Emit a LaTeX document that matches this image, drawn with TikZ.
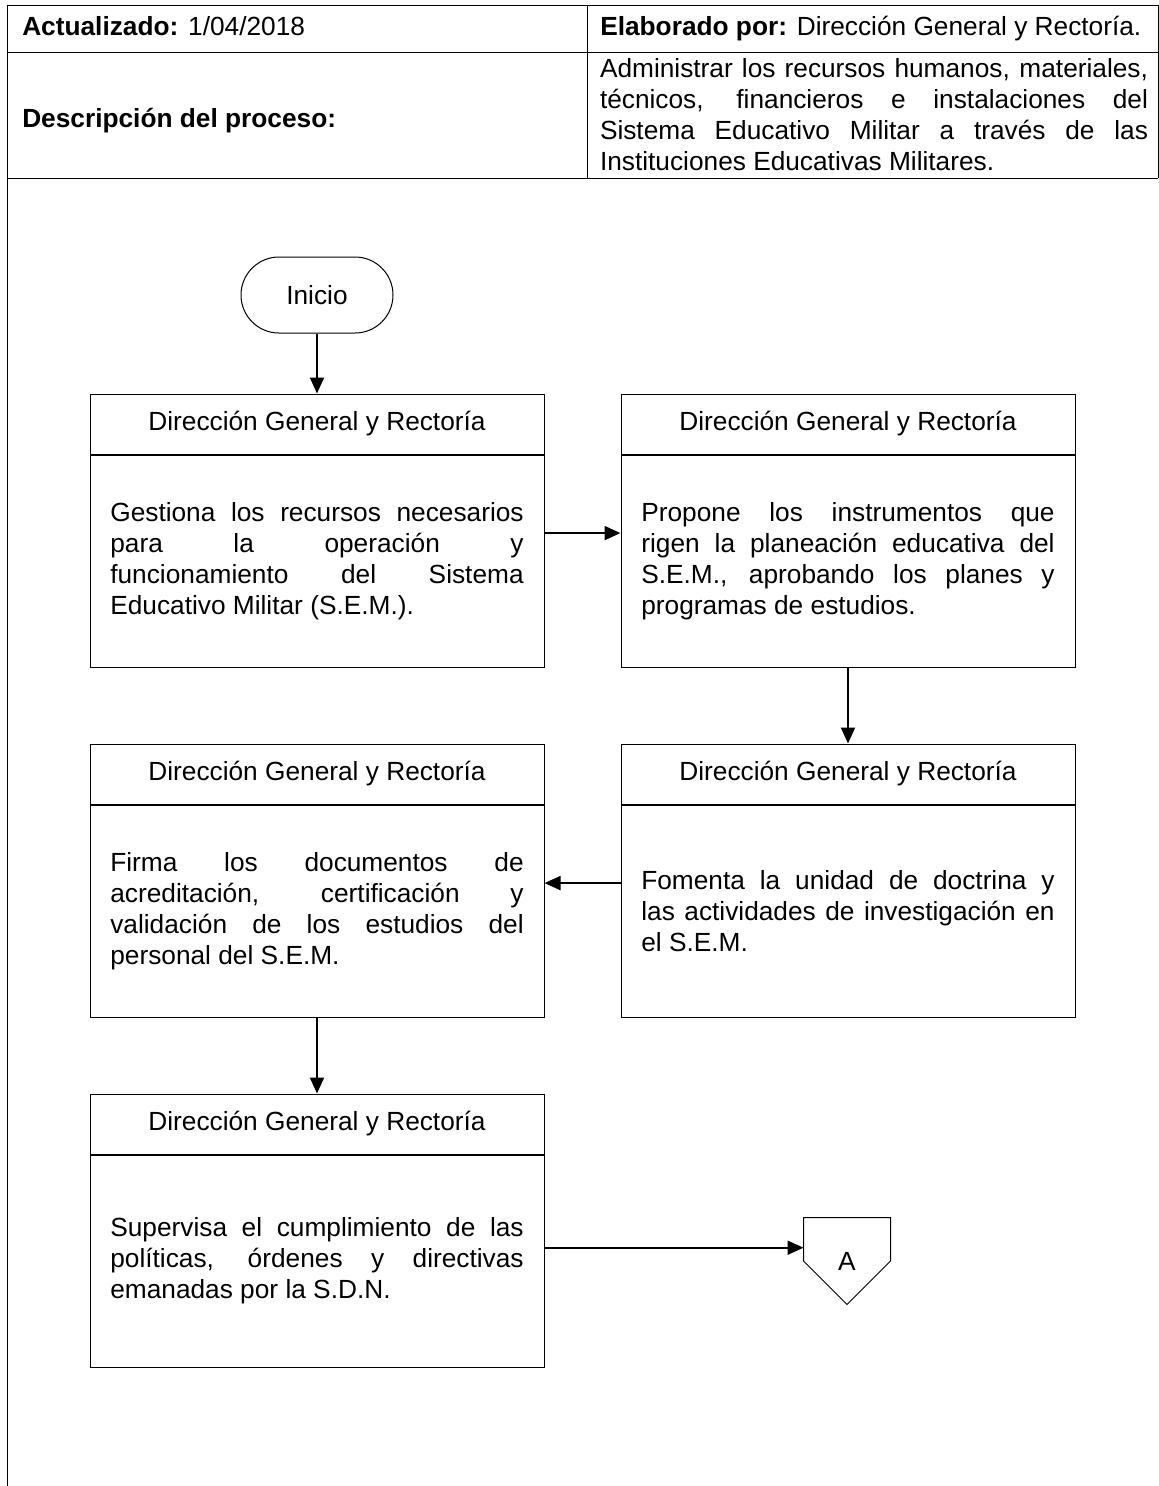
\documentclass[tikz,border=0pt]{standalone}
\usepackage{fontspec}
\setmainfont{Liberation Sans}
\usepackage{tikz}
\usetikzlibrary{positioning, arrows.meta}
\tikzstyle{startstop} = [rectangle, rounded corners=28.5pt, minimum width=114pt, minimum height=57pt, text centered, draw=black, line width=0.75pt]
\tikzstyle{titlebox} = [rectangle, minimum width=340.5pt, minimum height=45pt, inner sep=0pt, text centered, draw=black, line width=0.75pt]
\tikzstyle{process} = [rectangle, minimum width=340.5pt, minimum height=159pt, inner sep=0pt, text width=310pt, align=justify, draw=black, line width=0.75pt]
\tikzstyle{offpage} = [rectangle, minimum width=65.25pt, minimum height=65.25pt, inner sep=0pt, outer sep=0pt]
\tikzstyle{cell} = [inner sep=0pt, anchor=base west]
\tikzstyle{arrow} = [line width=1.5pt, -{Triangle[length=12pt,width=10.5pt]}]
\tikzstyle{frame} = [line width=0.75pt]
\tikzstyle{every node}=[font=\fontsize{19.7pt}{23.25pt}\selectfont]

\begin{document}
\begin{tikzpicture}[node distance=57pt, x=0.75pt, y=-0.75pt]
		\useasboundingbox (0,0) rectangle (1159,1486);
		%encabezado
		\draw [frame] (7,5) -- (1158,5);
		\draw [frame] (7,52) -- (1158,52);
		\draw [frame] (7,178) -- (1158,178);
		\draw [frame] (7,5) -- (7,1486);
		\draw [frame] (587,5) -- (587,178);
		\draw [frame] (1158,5) -- (1158,178);
		\node (act) [cell] at (22,35) {\textbf{Actualizado:} 1/04/2018};
		\node (ela) [cell] at (600,35) {\textbf{Elaborado por:} Dirección General y Rectoría.};
		\node (des) [cell] at (22,127) {\textbf{Descripción del proceso:}};
		\node (txt) [inner sep=0pt, text width=411pt, align=justify] at (874,115) {Administrar los recursos humanos, materiales,\linebreak técnicos, financieros e instalaciones del\linebreak Sistema Educativo Militar a través de las\linebreak Instituciones Educativas Militares.};
		
		%formas del diagrama
		\node (start) [startstop] at (317,295) {Inicio};
		\node (tit1) [titlebox, below=45pt of start] {Dirección General y Rectoría};
		\node (pro1) [process, below=0pt of tit1] {Gestiona los recursos necesarios\linebreak para la operación y\linebreak funcionamiento del Sistema\linebreak Educativo Militar (S.E.M.).};
		\node (tit2) [titlebox, right=of tit1] {Dirección General y Rectoría};
		\node (pro2) [process, below=0pt of tit2] {Propone los instrumentos que\linebreak rigen la planeación educativa del\linebreak S.E.M., aprobando los planes y\linebreak programas de estudios.};
		\node (tit4) [titlebox, below=of pro2] {Dirección General y Rectoría};
		\node (pro4) [process, below=0pt of tit4] {Fomenta la unidad de doctrina y\linebreak las actividades de investigación en\linebreak el S.E.M.};
		\node (tit3) [titlebox, left=of tit4] {Dirección General y Rectoría};
		\node (pro3) [process, below=0pt of tit3] {Firma los documentos de\linebreak acreditación, certificación y\linebreak validación de los estudios del\linebreak personal del S.E.M.};
		\node (tit5) [titlebox, below=of pro3] {Dirección General y Rectoría};
		\node (pro5) [process, below=0pt of tit5] {Supervisa el cumplimiento de las\linebreak políticas, órdenes y directivas\linebreak emanadas por la S.D.N.};
		\node (conA) [offpage, right=194.25pt of pro5] {A};
		\draw [frame] (conA.north west) -- (conA.north east) -- (conA.east) -- (conA.south) -- (conA.west) -- cycle;
		
		%conexiones
		\draw [arrow](start) -- (tit1);
		\draw [arrow](pro1.7) -- (pro2.173);
		\draw [arrow](pro2) -- (tit4);
		\draw [arrow](pro4.173) -- (pro3.7);
		\draw [arrow](pro3) -- (tit5);
		\draw [arrow](pro5.east |- conA.163) -- (conA.163);
		
	\end{tikzpicture}
\end{document}
